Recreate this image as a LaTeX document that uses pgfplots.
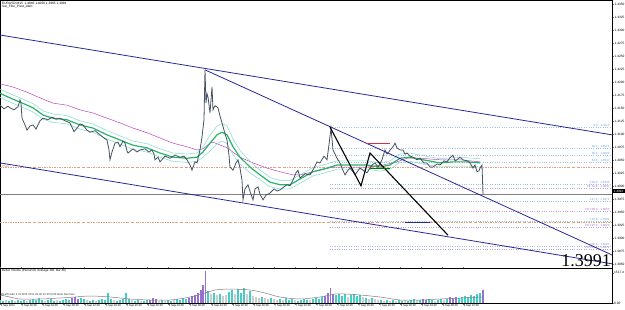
\documentclass[border=0pt]{standalone}
\usepackage{fontspec}
\setmainfont{Liberation Sans}
\newfontfamily\bigserif{Liberation Serif}
\usepackage{pgfplots}
\pgfplotsset{compat=1.18}
\usepackage{pgfplotstable}
\definecolor{navyline}{RGB}{40,40,150}
\definecolor{pricec}{RGB}{70,82,98}
\definecolor{magc}{RGB}{190,70,190}
\definecolor{greenma}{RGB}{40,180,100}
\definecolor{envc}{RGB}{130,215,210}
\definecolor{fibb}{RGB}{110,165,215}
\definecolor{fibp}{RGB}{160,110,200}
\definecolor{fibbl}{RGB}{160,195,225}
\definecolor{fibpl}{RGB}{185,160,215}
\definecolor{pivc}{RGB}{225,160,130}
\definecolor{segred}{RGB}{215,45,70}
\definecolor{volt}{RGB}{70,205,195}
\definecolor{volp}{RGB}{150,115,210}
\definecolor{volg}{RGB}{205,205,205}
\tikzset{fibl/.style={font=\fontsize{3}{3.5}\selectfont, anchor=base east, inner sep=0.3pt, yshift=0.4pt}}

\pgfplotstableread{
x p
0 1.4156
4 1.4149
8 1.4154
10 1.4151
14 1.4147
18 1.4153
20 1.4166
21 1.4160
22 1.4131
25 1.4118
27 1.4108
30 1.4116
33 1.4118
36 1.4110
40 1.4126
43 1.4131
48 1.4128
52 1.4133
56 1.4129
60 1.4131
65 1.4126
70 1.4122
74 1.4105
77 1.4112
80 1.4120
83 1.4118
87 1.4108
90 1.4104
95 1.4107
100 1.4099
104 1.4093
107 1.4089
109 1.4070
110 1.4051
112 1.4066
115 1.4083
118 1.4085
120 1.4076
123 1.4087
125 1.4083
127 1.4068
128 1.4064
133 1.4072
137 1.4066
140 1.4070
145 1.4072
149 1.4066
152 1.4070
154 1.4062
155 1.4051
158 1.4056
160 1.4047
165 1.4058
170 1.4054
175 1.4060
180 1.4056
184 1.4058
187 1.4051
190 1.4041
192 1.4031
195 1.4047
197 1.4045
200 1.4070
202 1.4095
204 1.4128
205 1.4224
206 1.4160
207 1.4178
208 1.4172
210 1.4141
212 1.4191
213 1.4147
215 1.4155
218 1.4151
220 1.4135
222 1.4122
225 1.4101
227 1.4089
229 1.4060
230 1.4037
233 1.4031
236 1.4045
238 1.4051
240 1.4035
242 1.4012
243 1.3974
245 1.3995
248 1.4003
250 1.3990
253 1.3974
255 1.3995
258 1.3999
260 1.3985
263 1.3974
266 1.3983
270 1.3987
274 1.3995
277 1.3991
280 1.3993
284 1.3999
287 1.4003
290 1.4001
293 1.4012
296 1.4026
298 1.4031
300 1.4016
305 1.4024
310 1.4022
314 1.4035
317 1.4047
320 1.4045
324 1.4058
327 1.4051
329 1.4080
331 1.4112
333 1.4070
335 1.4062
337 1.4054
340 1.4045
342 1.4035
345 1.4022
348 1.4031
350 1.4035
353 1.4028
355 1.4022
358 1.4030
360 1.4035
363 1.4031
367 1.4026
370 1.4035
372 1.4041
375 1.4045
378 1.4037
382 1.4051
385 1.4070
387 1.4062
388 1.4064
391 1.4072
393 1.4076
395 1.4083
397 1.4074
400 1.4070
403 1.4070
405 1.4062
407 1.4064
410 1.4058
413 1.4056
417 1.4051
420 1.4054
424 1.4045
427 1.4045
430 1.4037
433 1.4037
437 1.4043
440 1.4041
444 1.4049
447 1.4047
450 1.4055
453 1.4060
455 1.4049
457 1.4051
460 1.4056
463 1.4051
467 1.4049
470 1.4045
473 1.4035
475 1.4041
477 1.4028
479 1.4030
480 1.4035
482 1.4041
483 1.3985
}\price

\pgfplotstableread{
x ma up lo
0 1.4179 1.4187 1.4171
10 1.4170 1.4178 1.4162
20 1.4162 1.4170 1.4154
33 1.4151 1.4159 1.4143
43 1.4137 1.4145 1.4129
53 1.4131 1.4139 1.4123
67 1.4128 1.4136 1.4120
80 1.4118 1.4126 1.4110
93 1.4112 1.4120 1.4104
107 1.4099 1.4107 1.4091
120 1.4089 1.4097 1.4081
133 1.4079 1.4087 1.4071
147 1.4074 1.4082 1.4066
160 1.4064 1.4072 1.4056
173 1.4056 1.4064 1.4048
187 1.4054 1.4062 1.4046
197 1.4056 1.4064 1.4048
203 1.4066 1.4076 1.4056
210 1.4083 1.4098 1.4068
217 1.4099 1.4116 1.4082
222 1.4104 1.4121 1.4087
227 1.4099 1.4116 1.4082
233 1.4076 1.4091 1.4061
240 1.4056 1.4069 1.4043
250 1.4037 1.4048 1.4026
260 1.4022 1.4031 1.4013
270 1.4008 1.4017 1.3999
280 1.4003 1.4011 1.3995
290 1.4003 1.4011 1.3995
300 1.4014 1.4022 1.4006
313 1.4028 1.4036 1.4020
327 1.4035 1.4043 1.4027
337 1.4041 1.4049 1.4033
350 1.4041 1.4049 1.4033
367 1.4041 1.4049 1.4033
380 1.4037 1.4045 1.4029
390 1.4041 1.4049 1.4033
400 1.4054 1.4062 1.4046
410 1.4056 1.4064 1.4048
423 1.4051 1.4059 1.4043
440 1.4045 1.4053 1.4037
453 1.4047 1.4055 1.4039
467 1.4047 1.4055 1.4039
480 1.4045 1.4053 1.4037
}\greenma

\pgfplotstableread{
x m
0 1.4197
13 1.4191
27 1.4181
40 1.4170
53 1.4160
67 1.4156
80 1.4147
93 1.4141
107 1.4131
120 1.4122
133 1.4112
147 1.4103
160 1.4093
173 1.4083
187 1.4076
197 1.4070
203 1.4072
210 1.4083
213 1.4085
227 1.4074
240 1.4056
253 1.4045
267 1.4035
280 1.4028
293 1.4022
300 1.4022
320 1.4031
333 1.4037
350 1.4037
367 1.4037
383 1.4041
397 1.4047
407 1.4054
420 1.4054
440 1.4051
460 1.4051
480 1.4047
}\magma

\pgfplotstableread{
x v
0 150
3 100
9 100
12 150
18 150
21 100
24 150
30 150
33 200
36 150
39 250
42 150
48 150
51 200
54 100
60 100
63 150
66 200
69 150
81 250
84 200
90 100
93 150
99 150
102 200
105 150
108 500
111 200
117 100
120 150
123 200
126 500
129 200
135 100
138 150
144 100
147 150
162 150
168 150
171 100
177 200
180 150
183 250
186 200
208 600
214 500
220 450
229 550
232 650
238 700
241 500
244 750
250 600
262 300
271 250
280 200
286 250
289 150
292 200
298 100
301 150
304 200
307 150
313 200
316 250
319 200
322 300
336 400
339 450
342 350
345 450
351 400
354 450
357 350
360 400
366 250
372 250
381 150
387 150
393 150
399 150
402 100
408 100
411 150
414 200
420 150
429 200
432 150
438 150
441 200
447 200
459 250
462 300
465 350
468 300
471 400
474 350
477 450
480 500
}\volteal

\pgfplotstableread{
x v
72 250
75 300
78 200
150 150
153 250
156 200
189 250
192 350
195 400
198 500
201 650
203 900
205.5 1600
325 350
328 500
330.5 750
333 450
423 200
426 150
450 300
453 250
456 300
483 650
}\volpurp

\pgfplotstableread{
x v
6 150
15 100
27 100
45 100
57 150
87 150
96 100
114 150
132 150
141 100
159 100
165 100
174 150
211 450
217 400
223 350
226 400
235 450
247 450
253 350
256 300
259 250
265 250
268 200
274 200
277 150
283 150
295 150
310 150
348 300
363 300
369 200
375 200
378 150
384 100
390 100
396 100
405 150
417 150
435 100
444 150
}\volgray

\begin{document}
\begin{tikzpicture}
\useasboundingbox (0,0) rectangle (625pt,309pt);
\begin{axis}[at={(0pt,41pt)}, anchor=south west, scale only axis,
  width=612pt, height=268pt, xmin=0, xmax=612, ymin=1.38429, ymax=1.43583,
  clip=false, axis line style={line width=0.6pt},
  xtick=\empty,
  ytick={1.385,1.3875,1.39,1.3925,1.395,1.3975,1.4,1.4025,1.405,1.4075,1.41,1.4125,1.415,1.4175,1.42,1.4225,1.425,1.4275,1.43,1.4325,1.435},
  yticklabel pos=right, tick align=outside, major tick length=2pt,
  y tick label style={font=\fontsize{3.2}{4}\selectfont, inner sep=0.5pt,
    /pgf/number format/fixed, /pgf/number format/fixed zerofill,
    /pgf/number format/precision=4, /pgf/number format/assume math mode=true},
]
% horizontal levels
\addplot[gray, line width=0.6pt] coordinates {(0,1.3985) (612,1.3985)};
\addplot[pivc, line width=0.45pt, dash pattern=on 2pt off 1.2pt on 0.5pt off 1.2pt] coordinates {(0,1.4036) (612,1.4036)};
\addplot[pivc, line width=0.45pt, dash pattern=on 2pt off 1.2pt on 0.5pt off 1.2pt] coordinates {(0,1.3931) (612,1.3931)};
\node[font=\fontsize{3}{3.5}\selectfont, pivc!80!black, anchor=south west, inner sep=0.3pt] at (axis cs:2,1.4036) {Pivot};
% fib retracement / expansion
\addplot[fibbl, dotted, line width=0.35pt] coordinates {(330,1.4114) (612,1.4114)};
\addplot[fibbl, dotted, line width=0.35pt] coordinates {(330,1.4074) (612,1.4074)};
\addplot[fibbl, dotted, line width=0.35pt] coordinates {(330,1.4060) (612,1.4060)};
\addplot[fibbl, dotted, line width=0.35pt] coordinates {(330,1.4047) (612,1.4047)};
\addplot[fibbl, dotted, line width=0.35pt] coordinates {(330,1.4005) (612,1.4005)};
\addplot[fibpl, dotted, line width=0.35pt] coordinates {(330,1.3997) (612,1.3997)};
\addplot[fibbl, dotted, line width=0.35pt] coordinates {(330,1.3972) (612,1.3972)};
\addplot[fibpl, dotted, line width=0.35pt] coordinates {(330,1.3953) (612,1.3953)};
\addplot[fibbl, dotted, line width=0.35pt] coordinates {(330,1.3933) (612,1.3933)};
\addplot[fibpl, dotted, line width=0.35pt] coordinates {(330,1.3922) (612,1.3922)};
\addplot[fibbl, dotted, line width=0.35pt] coordinates {(330,1.3885) (612,1.3885)};
\addplot[fibpl, dotted, line width=0.35pt] coordinates {(330,1.3879) (612,1.3879)};
\node[fibl, fibb] at (axis cs:610,1.4114) {0.0 - 1.4114};
\node[fibl, fibb] at (axis cs:610,1.4074) {38.2 - 1.4074};
\node[fibl, fibb] at (axis cs:610,1.4060) {50.0 - 1.4060};
\node[fibl, fibb] at (axis cs:610,1.4047) {61.8 - 1.4047};
\node[fibl, fibb] at (axis cs:610,1.4005) {100.0 - 1.4005};
\node[fibl, fibp] at (axis cs:610,1.3997) {FE 61.8 - 1.3997};
\node[fibl, fibb] at (axis cs:610,1.3972) {127.0 - 1.3972};
\node[fibl, fibp] at (axis cs:610,1.3953) {FE 100.0 - 1.3953};
\node[fibl, fibb] at (axis cs:610,1.3933) {161.8 - 1.3933};
\node[fibl, fibp] at (axis cs:610,1.3922) {FE 127.0 - 1.3922};
\node[fibl, fibb] at (axis cs:610,1.3885) {200.0 - 1.3885};
\node[fibl, fibp] at (axis cs:610,1.3879) {FE 161.8 - 1.3879};
% moving averages
\addplot[magc, line width=0.5pt] table[x=x, y=m] {\magma};
\addplot[envc, line width=0.5pt] table[x=x, y=up] {\greenma};
\addplot[envc, line width=0.5pt] table[x=x, y=lo] {\greenma};
\addplot[greenma, line width=1.2pt] table[x=x, y=ma] {\greenma};
% price
\addplot[pricec, line width=0.8pt] table[x=x, y=p] {\price};
% channel lines
\addplot[navyline, line width=0.8pt] coordinates {(0,1.4291) (612,1.4099)};
\addplot[navyline, line width=0.8pt] coordinates {(205,1.4224) (612,1.3868)};
\addplot[navyline, line width=0.8pt] coordinates {(0,1.4045) (612,1.3851)};
% zigzag
\addplot[black, line width=1.1pt] coordinates {(330,1.4114) (361,1.4001) (370,1.4064) (448,1.3906)};
% short segments
\addplot[segred, line width=1pt] coordinates {(366,1.4083) (390,1.4083)};
\addplot[green!45!black, line width=1pt] coordinates {(370,1.4035) (390,1.4035)};
\addplot[navyline, line width=1.1pt] coordinates {(405,1.3931) (430,1.3931)};
% texts
\node[anchor=north west, font=\fontsize{3.2}{3.8}\selectfont, align=left, inner sep=0pt] at (axis cs:2,1.4355) {EURUSD,M15\ \ 1.4040 1.4060 1.3985 1.3991\\Sar\_Fibo\_Pivot\_Alert};
\node[anchor=base east, font=\bigserif\fontsize{18}{18}\selectfont, inner sep=0pt] at (axis cs:611,1.3846) {1.3991};
\node[anchor=west, fill=black, text=white, font=\fontsize{3}{3.5}\selectfont, inner sep=0.5pt, minimum width=12pt] at (axis cs:612.5,1.3991) {1.3991};
\end{axis}

\begin{axis}[at={(0pt,6pt)}, anchor=south west, scale only axis,
  width=612pt, height=35pt, xmin=0, xmax=612, ymin=0, ymax=1750,
  clip=false, axis line style={line width=0.6pt},
  ytick={0,1517.4}, yticklabels={0.00,1517.4}, yticklabel pos=right,
  y tick label style={font=\fontsize{3.2}{4}\selectfont, inner sep=0.5pt},
  xtick={0,21,42,63,84,105,126,147,168,189,211,232,253,274,295,316,337,358,379,400,421,442,463},
  xticklabels={2 Sep 2011,5 Sep 00:00,5 Sep 04:00,5 Sep 08:00,5 Sep 12:00,5 Sep 16:00,5 Sep 20:00,6 Sep 00:00,6 Sep 04:00,6 Sep 08:00,6 Sep 12:00,6 Sep 16:00,6 Sep 20:00,7 Sep 00:00,7 Sep 04:00,7 Sep 08:00,7 Sep 12:00,7 Sep 16:00,7 Sep 20:00,8 Sep 00:00,8 Sep 04:00,8 Sep 08:00,8 Sep 12:00},
  x tick label style={font=\fontsize{2.8}{3}\selectfont, anchor=north west, inner sep=0.3pt, xshift=0.3pt},
  tick align=outside, major tick length=1.5pt,
]
\addplot[ycomb, volg, line width=1.1pt] table[x=x, y=v] {\volgray};
\addplot[ycomb, volt, line width=1.1pt] table[x=x, y=v] {\volteal};
\addplot[ycomb, volp, line width=1.1pt] table[x=x, y=v] {\volpurp};
\addplot[gray, line width=0.5pt, smooth] coordinates {(0,400) (10,300) (20,200) (40,200) (60,250) (75,300) (90,350) (110,300) (130,200) (150,150) (170,150) (185,250) (195,350) (205,500) (215,650) (230,700) (250,650) (265,500) (280,300) (300,200) (320,300) (335,450) (345,450) (360,400) (380,300) (400,150) (420,150) (440,200) (460,250) (483,300)};
\node[anchor=north west, font=\fontsize{3}{3.5}\selectfont, inner sep=0pt] at (axis cs:2,1680) {Better Volume (Period 20, Average 100, Bar 40)};
\node[anchor=west, font=\fontsize{2.8}{3}\selectfont, inner sep=0pt, text=black!80] at (axis cs:1,450) {RealTrader 1.30 M15 2011.09.08 12:45 ECB Rate Decision};
\end{axis}
\end{tikzpicture}
\end{document}
